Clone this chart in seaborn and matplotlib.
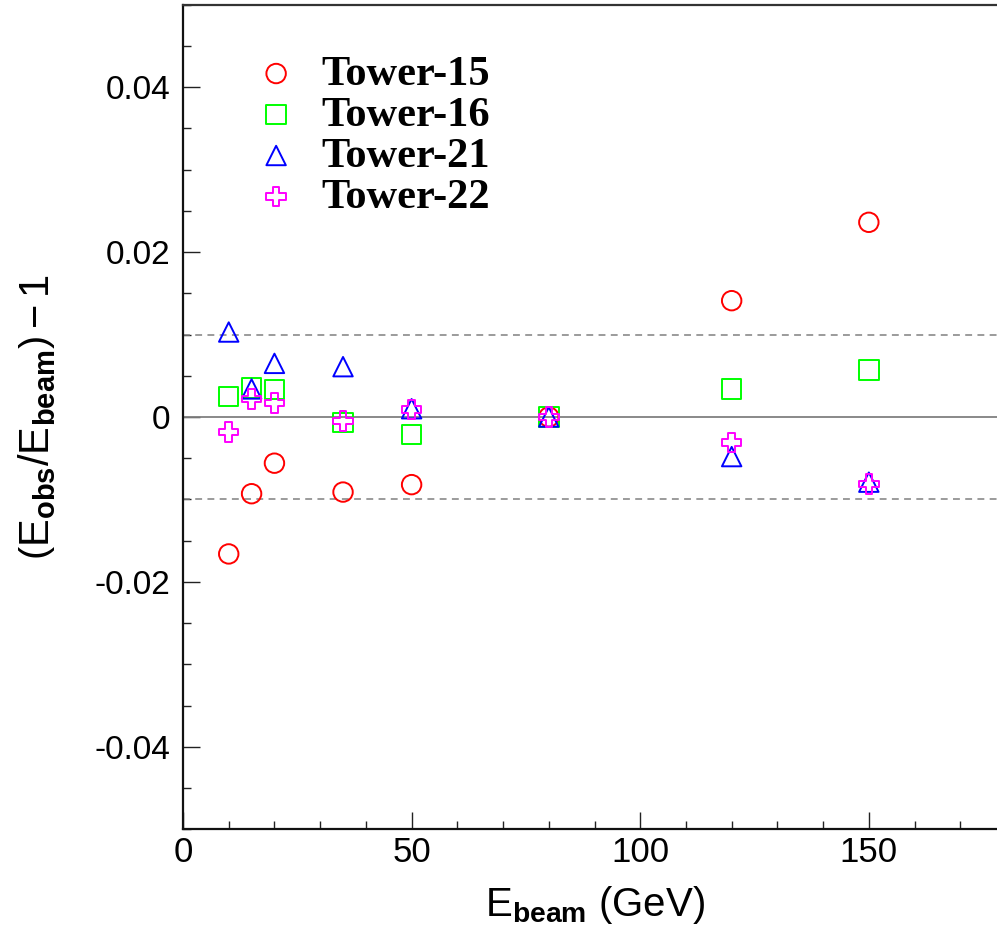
import matplotlib
matplotlib.use("Agg")
import matplotlib.pyplot as plt
from matplotlib import font_manager
from matplotlib.font_manager import FontProperties
from matplotlib.ticker import MultipleLocator, FuncFormatter
import seaborn as sns

# Beam energies (GeV) and relative energy response of each tower
energies = [10, 15, 20, 35, 50, 80, 120, 150]
tower15 = [-0.0166, -0.0093, -0.0056, -0.0091, -0.0082, 0.0, 0.0141, 0.0236]
tower16 = [0.0025, 0.0035, 0.0033, -0.0007, -0.0021, 0.0, 0.0034, 0.0057]
tower21 = [0.0103, 0.0034, 0.0065, 0.0061, 0.0010, 0.0, -0.0048, -0.0079]
tower22 = [-0.0018, 0.0022, 0.0017, -0.0005, 0.0009, 0.0, -0.0031, -0.0081]

series_labels = ["Tower-15", "Tower-16", "Tower-21", "Tower-22"]
series_values = [tower15, tower16, tower21, tower22]
colors = ["#ff0000", "#00ff00", "#0000ff", "#ff00ff"]
markers = ["o", "s", "^", "P"]

xticks_major = [0, 50, 100, 150]
yticks_major = [-0.04, -0.02, 0, 0.02, 0.04]


def pick_family(candidates):
    for fam in candidates:
        try:
            font_manager.findfont(FontProperties(family=fam), fallback_to_default=False)
            return fam
        except Exception:
            continue
    return "DejaVu Sans"


sns.set_style("ticks")
sans = pick_family(["Liberation Sans", "Arial", "DejaVu Sans"])
serif = pick_family(["Liberation Serif", "DejaVu Serif"])

plt.rcParams["font.family"] = [sans, "DejaVu Sans"]
plt.rcParams["axes.unicode_minus"] = False
plt.rcParams["mathtext.fontset"] = "custom"
plt.rcParams["mathtext.rm"] = sans
plt.rcParams["mathtext.it"] = sans
plt.rcParams["mathtext.bf"] = f"{sans}:bold"
for key in ("text.color", "axes.labelcolor", "xtick.color", "ytick.color"):
    plt.rcParams[key] = "black"

fig = plt.figure(figsize=(9.97, 9.43), dpi=100)
ax = fig.add_axes([183 / 997, 0.1204, 823 / 997, 0.8748])

# Reference lines: zero and +-1% band
ax.axhline(0, color="#808080", lw=1.3, zorder=1)
for yv in (-0.01, 0.01):
    ax.axhline(yv, color="#808080", lw=1.1, dashes=(4.5, 3.5), zorder=1)

handles = []
for lab, vals, col, mk in zip(series_labels, series_values, colors, markers):
    sns.scatterplot(x=energies, y=vals, marker=mk, s=196, facecolors="none",
                    edgecolor=col, linewidth=1.4, ax=ax, legend=False, zorder=3)
    coll = ax.collections[-1]
    coll.set_label(lab)
    handles.append(coll)

ax.set_xlim(0, 180)
ax.set_ylim(-0.05, 0.05)

ax.set_xticks(xticks_major)
ax.xaxis.set_minor_locator(MultipleLocator(10))
ax.set_yticks(yticks_major)
ax.yaxis.set_minor_locator(MultipleLocator(0.005))
ax.yaxis.set_major_formatter(FuncFormatter(lambda v, p: f"{v:g}" if abs(v) > 1e-12 else "0"))

ax.tick_params(axis="both", which="both", direction="in", top=False, right=False,
               color="#222222", labelcolor="black", width=1.0)
ax.tick_params(axis="y", which="major", length=12, pad=9, labelsize=24)
ax.tick_params(axis="y", which="minor", length=6)
ax.tick_params(axis="x", which="major", length=12, pad=5, labelsize=25)
ax.tick_params(axis="x", which="minor", length=5.5)

for side in ("left", "bottom"):
    ax.spines[side].set_linewidth(1.6)
    ax.spines[side].set_color("#111111")
ax.spines["top"].set_linewidth(1.6)
ax.spines["top"].set_color("#333333")
ax.spines["right"].set_visible(False)

ax.set_xlabel(r"E$_{\mathbf{beam}}$ (GeV)", fontsize=29, color="black")
ax.xaxis.set_label_coords(0.5, -0.066)
ax.set_ylabel(r"$\left(\mathrm{E}_{\mathbf{obs}}/\mathrm{E}_{\mathbf{beam}}\right)-1$",
              fontsize=30, color="black")
ax.yaxis.set_label_coords(-0.152, 0.5)

leg = ax.legend(handles=handles, labels=series_labels, loc="upper left",
                bbox_to_anchor=(256 / 997, 1 - 55 / 943), bbox_transform=fig.transFigure,
                frameon=False, prop=FontProperties(family=serif, weight="bold", size=30.5),
                handlelength=0.95, handletextpad=0.6, labelspacing=0.055,
                borderpad=0, borderaxespad=0, scatterpoints=1)
for t in leg.get_texts():
    t.set_color("black")

fig.savefig("out.png", dpi=100)
